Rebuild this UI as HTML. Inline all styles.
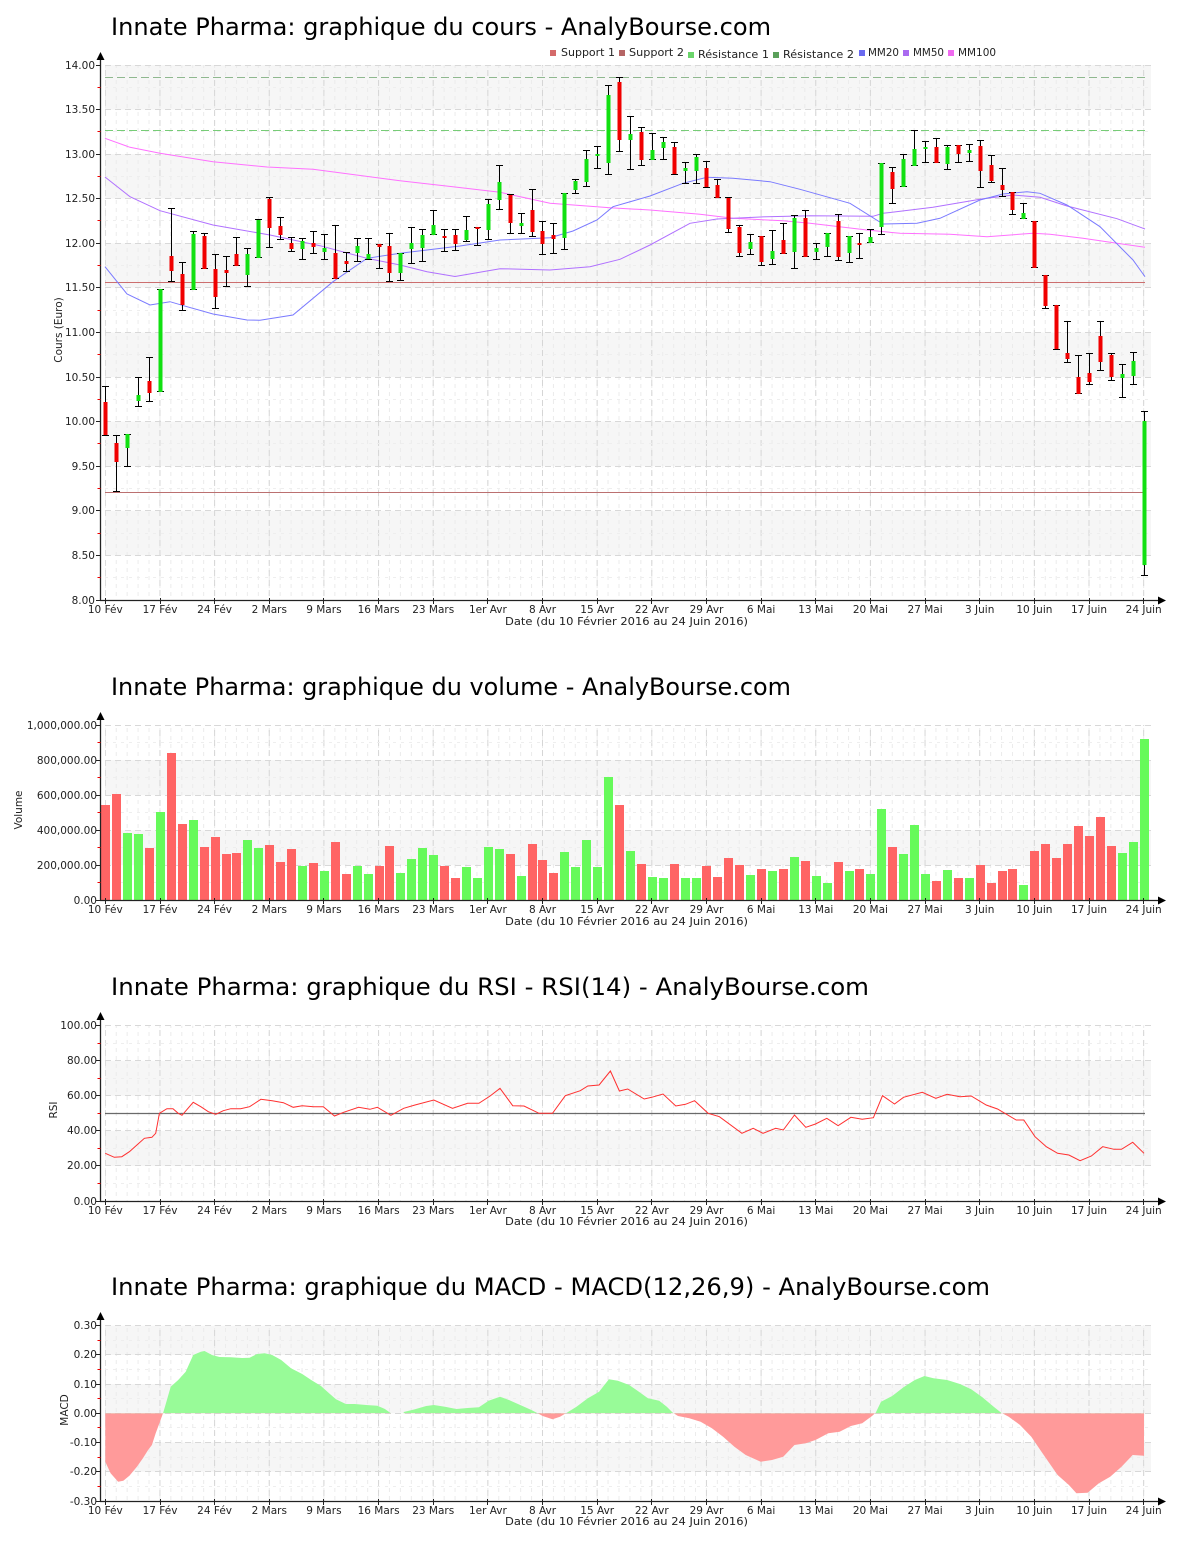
<!DOCTYPE html>
<html><head><meta charset="utf-8"><style>
html,body{margin:0;padding:0;background:#fff;}
svg{display:block;font-family:"DejaVu Sans","Liberation Sans",sans-serif;}
</style></head><body>
<svg width="1200" height="1550" viewBox="0 0 1200 1550" xmlns="http://www.w3.org/2000/svg">
<defs>
<pattern id="vminor" patternUnits="userSpaceOnUse" x="104.8" y="0" width="10.93" height="8"><rect width="1" height="4" fill="#ebebeb"/></pattern>
<pattern id="vmajor" patternUnits="userSpaceOnUse" x="104.8" y="0" width="54.65" height="10"><rect width="1" height="6" fill="#d6d6d6"/></pattern>
<clipPath id="cpos"><rect x="100" y="1320" width="1060" height="93.3"/></clipPath>
<clipPath id="cneg"><rect x="100" y="1413.3" width="1060" height="90"/></clipPath>
</defs>
<rect width="1200" height="1550" fill="#fff"/>

<!-- ================= CHART 1 ================= -->
<text x="111" y="35" font-size="24" textLength="660" lengthAdjust="spacingAndGlyphs" fill="#000">Innate Pharma: graphique du cours - AnalyBourse.com</text>
<!-- legend -->
<g font-size="11" fill="#222">
<rect x="550" y="50" width="6" height="6" fill="#d46a6a"/><text x="561" y="56" textLength="54" lengthAdjust="spacingAndGlyphs">Support 1</text>
<rect x="619" y="50" width="6" height="6" fill="#b56565"/><text x="629" y="56" textLength="55" lengthAdjust="spacingAndGlyphs">Support 2</text>
<rect x="688" y="52" width="6" height="6" fill="#6ad46a"/><text x="698" y="58" textLength="71" lengthAdjust="spacingAndGlyphs">Résistance 1</text>
<rect x="773" y="52" width="6" height="6" fill="#5aa05a"/><text x="783" y="58" textLength="71" lengthAdjust="spacingAndGlyphs">Résistance 2</text>
<rect x="859" y="50" width="6" height="6" fill="#6a6af0"/><text x="868" y="56" textLength="31" lengthAdjust="spacingAndGlyphs">MM20</text>
<rect x="903" y="50" width="6" height="6" fill="#aa6af0"/><text x="913" y="56" textLength="31" lengthAdjust="spacingAndGlyphs">MM50</text>
<rect x="948" y="50" width="6" height="6" fill="#f06af0"/><text x="958" y="56" textLength="38" lengthAdjust="spacingAndGlyphs">MM100</text>
</g>
<!-- bands -->
<g fill="#f6f6f6">
<rect x="105" y="65" width="1046" height="44.6"/><rect x="105" y="154" width="1046" height="44.6"/>
<rect x="105" y="243.2" width="1046" height="44.6"/><rect x="105" y="332.4" width="1046" height="44.6"/>
<rect x="105" y="421.6" width="1046" height="44.6"/><rect x="105" y="510.8" width="1046" height="44.6"/>
</g>
<rect x="105" y="65" width="1046" height="535" fill="url(#vminor)"/>
<rect x="105" y="65" width="1046" height="535" fill="url(#vmajor)"/>
<path d="M105,87.5H1151M105,131.5H1151M105,176.5H1151M105,220.5H1151M105,265.5H1151M105,310.5H1151M105,354.5H1151M105,399.5H1151M105,443.5H1151M105,488.5H1151M105,533.5H1151M105,577.5H1151" stroke="#eeeeee" stroke-dasharray="3,5" fill="none"/>
<path d="M105,65.5H1151M105,109.5H1151M105,154.5H1151M105,198.5H1151M105,243.5H1151M105,287.5H1151M105,332.5H1151M105,377.5H1151M105,421.5H1151M105,466.5H1151M105,510.5H1151M105,555.5H1151" stroke="#d8d8d8" stroke-dasharray="6,4" fill="none"/>
<!-- resistance / support -->
<path d="M105,77.5H1145" stroke="#8fb88f" stroke-dasharray="8,4" fill="none"/>
<path d="M105,130.5H1145" stroke="#77cc77" stroke-dasharray="8,4" fill="none"/>
<path d="M105,282.5H1145" stroke="#cc6e6e" fill="none"/>
<path d="M105,492.5H1145" stroke="#bb7070" fill="none"/>
<!-- moving averages -->
<polyline fill="none" stroke="#ff70ff" stroke-width="1" points="105,138.3 130,147.3 160,153.3 213,161.7 267,167 313,169.3 400,180.7 455,187 500,192.3 550,203.3 610,207.7 650,210 700,214.3 733,218.3 783,220.7 810,223.3 867,230 900,233.3 950,234.3 987,236.7 1033,233.3 1050,234.3 1083,238.3 1117,243.3 1145,247.3"/>
<polyline fill="none" stroke="#b070ff" stroke-width="1" points="105,177 130,196.7 160,210.7 213,225 270,235 320,245.7 367,258.3 400,265 427,271.7 455,276.5 500,268.7 550,270 590,266.7 620,259.3 650,245 690,223.3 717,219 767,216.7 810,215.7 873,216.3 883,213.3 933,207.3 983,198.7 1013,195 1040,197.3 1067,206 1117,218.7 1145,229"/>
<polyline fill="none" stroke="#7a7aff" stroke-width="1" points="105,266.7 127,294 150,305 170,301.7 187,306.7 213,314 247,320 260,320.3 293,315 333,281.7 367,258.3 400,253.3 460,246 500,240 550,237.7 573,231 597,220 613,206.7 650,196 683,183.3 707,177.3 733,178.3 770,181.7 800,189.3 850,203.3 883,224 917,223.3 940,218.3 980,200 1003,194 1027,191.7 1040,193.3 1067,205 1100,226.7 1133,260 1145,276.7"/>
<!-- wicks -->
<path stroke="#000" stroke-width="1" fill="none" d="M105.5,386V436M102,386.5h7M102,435.5h7
M116.5,435V492M113,435.5h7M113,491.5h7
M127.5,434V467M124,434.5h7M124,466.5h7
M138.5,377V407M135,377.5h7M135,406.5h7
M149.5,357V402M146,357.5h7M146,401.5h7
M160.5,289V392M157,289.5h7M157,391.5h7
M171.5,208V282M168,208.5h7M168,281.5h7
M182.5,262V311M179,262.5h7M179,310.5h7
M193.5,231V290M190,231.5h7M190,289.5h7
M204.5,233V269M201,233.5h7M201,268.5h7
M215.5,254V309M212,254.5h7M212,308.5h7
M226.5,256V287M223,256.5h7M223,286.5h7
M236.5,237V266M233,237.5h7M233,265.5h7
M247.5,248V287M244,248.5h7M244,286.5h7
M258.5,219V258M255,219.5h7M255,257.5h7
M269.5,197V248M266,197.5h7M266,247.5h7
M280.5,217V240M277,217.5h7M277,239.5h7
M291.5,237V252M288,237.5h7M288,251.5h7
M302.5,238V260M299,238.5h7M299,259.5h7
M313.5,231V254M310,231.5h7M310,253.5h7
M324.5,234V260M321,234.5h7M321,259.5h7
M335.5,225V279M332,225.5h7M332,278.5h7
M346.5,252V272M343,252.5h7M343,271.5h7
M357.5,238V262M354,238.5h7M354,261.5h7
M368.5,238V260M365,238.5h7M365,259.5h7
M379.5,244V269M376,244.5h7M376,268.5h7
M389.5,233V282M386,233.5h7M386,281.5h7
M400.5,253V281M397,253.5h7M397,280.5h7
M411.5,227V264M408,227.5h7M408,263.5h7
M422.5,229V262M419,229.5h7M419,261.5h7
M433.5,210V235M430,210.5h7M430,234.5h7
M444.5,229V252M441,229.5h7M441,251.5h7
M455.5,229V251M452,229.5h7M452,250.5h7
M466.5,216V242M463,216.5h7M463,241.5h7
M477.5,227V246M474,227.5h7M474,245.5h7
M488.5,199V240M485,199.5h7M485,239.5h7
M499.5,165V210M496,165.5h7M496,209.5h7
M510.5,194V234M507,194.5h7M507,233.5h7
M521.5,213V234M518,213.5h7M518,233.5h7
M532.5,189V237M529,189.5h7M529,236.5h7
M542.5,221V255M539,221.5h7M539,254.5h7
M553.5,223V254M550,223.5h7M550,253.5h7
M564.5,193V250M561,193.5h7M561,249.5h7
M575.5,179V194M572,179.5h7M572,193.5h7
M586.5,150V187M583,150.5h7M583,186.5h7
M597.5,146V169M594,146.5h7M594,168.5h7
M608.5,85V175M605,85.5h7M605,174.5h7
M619.5,77V152M616,77.5h7M616,151.5h7
M630.5,116V170M627,116.5h7M627,169.5h7
M641.5,127V166M638,127.5h7M638,165.5h7
M652.5,133V160M649,133.5h7M649,159.5h7
M663.5,137V160M660,137.5h7M660,159.5h7
M674.5,142V175M671,142.5h7M671,174.5h7
M685.5,162V184M682,162.5h7M682,183.5h7
M696.5,154V184M693,154.5h7M693,183.5h7
M706.5,161V188M703,161.5h7M703,187.5h7
M717.5,179V198M714,179.5h7M714,197.5h7
M728.5,197V233M725,197.5h7M725,232.5h7
M739.5,225V257M736,225.5h7M736,256.5h7
M750.5,234V255M747,234.5h7M747,254.5h7
M761.5,236V266M758,236.5h7M758,265.5h7
M772.5,230V265M769,230.5h7M769,264.5h7
M783.5,223V254M780,223.5h7M780,253.5h7
M794.5,215V269M791,215.5h7M791,268.5h7
M805.5,210V257M802,210.5h7M802,256.5h7
M816.5,243V260M813,243.5h7M813,259.5h7
M827.5,233V257M824,233.5h7M824,256.5h7
M838.5,214V261M835,214.5h7M835,260.5h7
M849.5,236V263M846,236.5h7M846,262.5h7
M859.5,233V259M856,233.5h7M856,258.5h7
M870.5,229V243M867,229.5h7M867,242.5h7
M881.5,163V235M878,163.5h7M878,234.5h7
M892.5,167V204M889,167.5h7M889,203.5h7
M903.5,154V187M900,154.5h7M900,186.5h7
M914.5,130V166M911,130.5h7M911,165.5h7
M925.5,141V163M922,141.5h7M922,162.5h7
M936.5,138V163M933,138.5h7M933,162.5h7
M947.5,145V170M944,145.5h7M944,169.5h7
M958.5,145V163M955,145.5h7M955,162.5h7
M969.5,144V162M966,144.5h7M966,161.5h7
M980.5,140V188M977,140.5h7M977,187.5h7
M991.5,155V183M988,155.5h7M988,182.5h7
M1002.5,168V197M999,168.5h7M999,196.5h7
M1012.5,192V215M1009,192.5h7M1009,214.5h7
M1023.5,203V219M1020,203.5h7M1020,218.5h7
M1034.5,221V268M1031,221.5h7M1031,267.5h7
M1045.5,275V309M1042,275.5h7M1042,308.5h7
M1056.5,305V350M1053,305.5h7M1053,349.5h7
M1067.5,321V363M1064,321.5h7M1064,362.5h7
M1078.5,355V394M1075,355.5h7M1075,393.5h7
M1089.5,353V385M1086,353.5h7M1086,384.5h7
M1100.5,321V371M1097,321.5h7M1097,370.5h7
M1111.5,353V381M1108,353.5h7M1108,380.5h7
M1122.5,364V398M1119,364.5h7M1119,397.5h7
M1133.5,352V385M1130,352.5h7M1130,384.5h7
M1144.5,411V576M1141,411.5h7M1141,575.5h7"/>
<!-- bodies red -->
<g fill="#f00000">
<rect x="103.5" y="402" width="4" height="33"/><rect x="114.5" y="443" width="4" height="19"/><rect x="147.5" y="381" width="4" height="12"/>
<rect x="169.5" y="256" width="4" height="15"/><rect x="180.5" y="274" width="4" height="31"/><rect x="202.5" y="236" width="4" height="33"/>
<rect x="213.5" y="269" width="4" height="28"/><rect x="224.5" y="270" width="4" height="3"/><rect x="234.5" y="254" width="4" height="12"/>
<rect x="267.5" y="199" width="4" height="29"/><rect x="278.5" y="226" width="4" height="9"/><rect x="289.5" y="243" width="4" height="6"/>
<rect x="311.5" y="243" width="4" height="4"/><rect x="333.5" y="253" width="4" height="26"/><rect x="344.5" y="261" width="4" height="3"/>
<rect x="377.5" y="244" width="4" height="3"/><rect x="387.5" y="246" width="4" height="27"/><rect x="442.5" y="236" width="4" height="2"/>
<rect x="453.5" y="235" width="4" height="9"/><rect x="475.5" y="227" width="4" height="2"/><rect x="508.5" y="195" width="4" height="28"/>
<rect x="530.5" y="210" width="4" height="22"/><rect x="540.5" y="231" width="4" height="13"/><rect x="551.5" y="235" width="4" height="4"/>
<rect x="617.5" y="82" width="4" height="58"/><rect x="639.5" y="132" width="4" height="28"/><rect x="672.5" y="147" width="4" height="27"/>
<rect x="704.5" y="168" width="4" height="19"/><rect x="715.5" y="185" width="4" height="13"/><rect x="726.5" y="198" width="4" height="31"/>
<rect x="737.5" y="227" width="4" height="26"/><rect x="759.5" y="236" width="4" height="26"/><rect x="781.5" y="240" width="4" height="14"/>
<rect x="803.5" y="218" width="4" height="39"/><rect x="836.5" y="221" width="4" height="36"/><rect x="857.5" y="243" width="4" height="2"/>
<rect x="890.5" y="172" width="4" height="17"/><rect x="934.5" y="147" width="4" height="16"/><rect x="956.5" y="145" width="4" height="9"/>
<rect x="978.5" y="146" width="4" height="25"/><rect x="989.5" y="165" width="4" height="16"/><rect x="1000.5" y="185" width="4" height="5"/>
<rect x="1010.5" y="192" width="4" height="18"/><rect x="1032.5" y="221" width="4" height="47"/><rect x="1043.5" y="275" width="4" height="31"/>
<rect x="1054.5" y="305" width="4" height="44"/><rect x="1065.5" y="353" width="4" height="6"/><rect x="1076.5" y="377" width="4" height="17"/>
<rect x="1087.5" y="373" width="4" height="9"/><rect x="1098.5" y="336" width="4" height="26"/><rect x="1109.5" y="355" width="4" height="22"/>
</g>
<!-- bodies green -->
<g fill="#11e011">
<rect x="125.5" y="434" width="4" height="14"/><rect x="136.5" y="395" width="4" height="6"/><rect x="158.5" y="289" width="4" height="103"/>
<rect x="191.5" y="234" width="4" height="56"/><rect x="245.5" y="254" width="4" height="21"/><rect x="256.5" y="220" width="4" height="38"/>
<rect x="300.5" y="241" width="4" height="8"/><rect x="322.5" y="248" width="4" height="4"/><rect x="355.5" y="246" width="4" height="7"/>
<rect x="366.5" y="254" width="4" height="5"/><rect x="398.5" y="253" width="4" height="20"/><rect x="409.5" y="243" width="4" height="6"/>
<rect x="420.5" y="235" width="4" height="13"/><rect x="431.5" y="225" width="4" height="10"/><rect x="464.5" y="230" width="4" height="10"/>
<rect x="486.5" y="204" width="4" height="26"/><rect x="497.5" y="182" width="4" height="18"/><rect x="519.5" y="223" width="4" height="3"/>
<rect x="562.5" y="193" width="4" height="45"/><rect x="573.5" y="181" width="4" height="9"/><rect x="584.5" y="159" width="4" height="23"/>
<rect x="595.5" y="154" width="4" height="2"/><rect x="606.5" y="95" width="4" height="68"/><rect x="628.5" y="134" width="4" height="6"/>
<rect x="650.5" y="150" width="4" height="10"/><rect x="661.5" y="142" width="4" height="6"/><rect x="683.5" y="168" width="4" height="3"/>
<rect x="694.5" y="157" width="4" height="14"/><rect x="748.5" y="242" width="4" height="7"/><rect x="770.5" y="251" width="4" height="8"/>
<rect x="792.5" y="218" width="4" height="34"/><rect x="814.5" y="248" width="4" height="4"/><rect x="825.5" y="233" width="4" height="14"/>
<rect x="847.5" y="236" width="4" height="17"/><rect x="868.5" y="237" width="4" height="6"/><rect x="879.5" y="163" width="4" height="64"/>
<rect x="901.5" y="159" width="4" height="28"/><rect x="912.5" y="149" width="4" height="17"/><rect x="923.5" y="147" width="4" height="2"/>
<rect x="945.5" y="147" width="4" height="17"/><rect x="967.5" y="150" width="4" height="3"/><rect x="1021.5" y="213" width="4" height="6"/>
<rect x="1120.5" y="374" width="4" height="4"/><rect x="1131.5" y="361" width="4" height="15"/><rect x="1142.5" y="421" width="4" height="144"/>
</g>
<!-- axes -->
<g stroke="#222" fill="none">
<path d="M100.5,58V601" stroke-width="1.3"/>
<path d="M100,600.5H1159" stroke-width="1.3"/>
<path d="M96,65.5h4M96,109.5h4M96,154.5h4M96,198.5h4M96,243.5h4M96,287.5h4M96,332.5h4M96,377.5h4M96,421.5h4M96,466.5h4M96,510.5h4M96,555.5h4M96,600.5h4"/>
<path d="M105.5,598v6M160.5,598v6M214.5,598v6M269.5,598v6M323.5,598v6M378.5,598v6M433.5,598v6M487.5,598v6M542.5,598v6M597.5,598v6M651.5,598v6M706.5,598v6M761.5,598v6M815.5,598v6M870.5,598v6M925.5,598v6M979.5,598v6M1034.5,598v6M1089.5,598v6M1143.5,598v6"/>
</g>
<path d="M97.5,87.5h3M97.5,131.5h3M97.5,176.5h3M97.5,220.5h3M97.5,265.5h3M97.5,310.5h3M97.5,354.5h3M97.5,399.5h3M97.5,443.5h3M97.5,488.5h3M97.5,533.5h3M97.5,577.5h3" stroke="#e00" fill="none"/>
<path d="M100.5,52L96.5,60H104.5Z M1166,600.5L1158,596.5V604.5Z" fill="#000"/>
<g font-size="10.5" fill="#222" text-anchor="end">
<text x="95" y="69">14.00</text><text x="95" y="113">13.50</text><text x="95" y="158">13.00</text><text x="95" y="202">12.50</text>
<text x="95" y="247">12.00</text><text x="95" y="291">11.50</text><text x="95" y="336">11.00</text><text x="95" y="381">10.50</text>
<text x="95" y="425">10.00</text><text x="95" y="470">9.50</text><text x="95" y="514">9.00</text><text x="95" y="559">8.50</text><text x="95" y="604">8.00</text>
</g>
<text transform="translate(62,330) rotate(-90)" font-size="10.5" fill="#222" text-anchor="middle">Cours (Euro)</text>
<g font-size="10.5" fill="#222" text-anchor="middle">
<text x="105.3" y="613">10 Fév</text><text x="160" y="613">17 Fév</text><text x="214.6" y="613">24 Fév</text><text x="269.3" y="613">2 Mars</text>
<text x="323.9" y="613">9 Mars</text><text x="378.6" y="613">16 Mars</text><text x="433.2" y="613">23 Mars</text><text x="487.9" y="613">1er Avr</text>
<text x="542.5" y="613">8 Avr</text><text x="597.2" y="613">15 Avr</text><text x="651.8" y="613">22 Avr</text><text x="706.5" y="613">29 Avr</text>
<text x="761.1" y="613">6 Mai</text><text x="815.8" y="613">13 Mai</text><text x="870.4" y="613">20 Mai</text><text x="925.1" y="613">27 Mai</text>
<text x="979.7" y="613">3 Juin</text><text x="1034.4" y="613">10 Juin</text><text x="1089" y="613">17 Juin</text><text x="1143.7" y="613">24 Juin</text>
<text x="626.5" y="625" textLength="243" lengthAdjust="spacingAndGlyphs">Date (du 10 Février 2016 au 24 Juin 2016)</text>
</g>

<!-- ================= CHART 2 VOLUME ================= -->
<text x="111" y="695" font-size="24" textLength="680" lengthAdjust="spacingAndGlyphs" fill="#000">Innate Pharma: graphique du volume - AnalyBourse.com</text>
<g fill="#f6f6f6"><rect x="105" y="760.1" width="1046" height="35"/><rect x="105" y="830.2" width="1046" height="35"/></g>
<rect x="105" y="725" width="1046" height="175" fill="url(#vminor)"/>
<rect x="105" y="725" width="1046" height="175" fill="url(#vmajor)"/>
<path d="M105,742.5H1151M105,777.5H1151M105,812.5H1151M105,847.5H1151M105,882.5H1151" stroke="#eeeeee" stroke-dasharray="3,5" fill="none"/>
<path d="M105,725.5H1151M105,760.5H1151M105,795.5H1151M105,830.5H1151M105,865.5H1151" stroke="#d8d8d8" stroke-dasharray="6,4" fill="none"/>
<g fill="#ff6464">
<rect x="101" y="805" width="9" height="95"/><rect x="112" y="794" width="9" height="106"/><rect x="145" y="848" width="9" height="52"/>
<rect x="167" y="753" width="9" height="147"/><rect x="178" y="824" width="9" height="76"/><rect x="200" y="847" width="9" height="53"/>
<rect x="211" y="837" width="9" height="63"/><rect x="222" y="854" width="9" height="46"/><rect x="232" y="853" width="9" height="47"/>
<rect x="265" y="845" width="9" height="55"/><rect x="276" y="862" width="9" height="38"/><rect x="287" y="849" width="9" height="51"/>
<rect x="309" y="863" width="9" height="37"/><rect x="331" y="842" width="9" height="58"/><rect x="342" y="874" width="9" height="26"/>
<rect x="375" y="866" width="9" height="34"/><rect x="385" y="846" width="9" height="54"/><rect x="440" y="866" width="9" height="34"/>
<rect x="451" y="878" width="9" height="22"/><rect x="506" y="854" width="9" height="46"/><rect x="528" y="844" width="9" height="56"/>
<rect x="538" y="860" width="9" height="40"/><rect x="549" y="873" width="9" height="27"/><rect x="615" y="805" width="9" height="95"/>
<rect x="637" y="864" width="9" height="36"/><rect x="670" y="864" width="9" height="36"/><rect x="702" y="866" width="9" height="34"/>
<rect x="713" y="877" width="9" height="23"/><rect x="724" y="858" width="9" height="42"/><rect x="735" y="865" width="9" height="35"/>
<rect x="757" y="869" width="9" height="31"/><rect x="779" y="869" width="9" height="31"/><rect x="801" y="861" width="9" height="39"/>
<rect x="834" y="862" width="9" height="38"/><rect x="855" y="869" width="9" height="31"/><rect x="888" y="847" width="9" height="53"/>
<rect x="932" y="881" width="9" height="19"/><rect x="954" y="878" width="9" height="22"/><rect x="976" y="865" width="9" height="35"/>
<rect x="987" y="883" width="9" height="17"/><rect x="998" y="871" width="9" height="29"/><rect x="1008" y="869" width="9" height="31"/>
<rect x="1030" y="851" width="9" height="49"/><rect x="1041" y="844" width="9" height="56"/><rect x="1052" y="858" width="9" height="42"/>
<rect x="1063" y="844" width="9" height="56"/><rect x="1074" y="826" width="9" height="74"/><rect x="1085" y="836" width="9" height="64"/>
<rect x="1096" y="817" width="9" height="83"/><rect x="1107" y="846" width="9" height="54"/>
</g>
<g fill="#66fa5a">
<rect x="123" y="833" width="9" height="67"/><rect x="134" y="834" width="9" height="66"/><rect x="156" y="812" width="9" height="88"/>
<rect x="189" y="820" width="9" height="80"/><rect x="243" y="840" width="9" height="60"/><rect x="254" y="848" width="9" height="52"/>
<rect x="298" y="866" width="9" height="34"/><rect x="320" y="871" width="9" height="29"/><rect x="353" y="866" width="9" height="34"/>
<rect x="364" y="874" width="9" height="26"/><rect x="396" y="873" width="9" height="27"/><rect x="407" y="859" width="9" height="41"/>
<rect x="418" y="848" width="9" height="52"/><rect x="429" y="855" width="9" height="45"/><rect x="462" y="867" width="9" height="33"/>
<rect x="473" y="878" width="9" height="22"/><rect x="484" y="847" width="9" height="53"/><rect x="495" y="849" width="9" height="51"/>
<rect x="517" y="876" width="9" height="24"/><rect x="560" y="852" width="9" height="48"/><rect x="571" y="867" width="9" height="33"/>
<rect x="582" y="840" width="9" height="60"/><rect x="593" y="867" width="9" height="33"/><rect x="604" y="777" width="9" height="123"/>
<rect x="626" y="851" width="9" height="49"/><rect x="648" y="877" width="9" height="23"/><rect x="659" y="878" width="9" height="22"/>
<rect x="681" y="878" width="9" height="22"/><rect x="692" y="878" width="9" height="22"/><rect x="746" y="875" width="9" height="25"/>
<rect x="768" y="871" width="9" height="29"/><rect x="790" y="857" width="9" height="43"/><rect x="812" y="876" width="9" height="24"/>
<rect x="823" y="883" width="9" height="17"/><rect x="845" y="871" width="9" height="29"/><rect x="866" y="874" width="9" height="26"/>
<rect x="877" y="809" width="9" height="91"/><rect x="899" y="854" width="9" height="46"/><rect x="910" y="825" width="9" height="75"/>
<rect x="921" y="874" width="9" height="26"/><rect x="943" y="870" width="9" height="30"/><rect x="965" y="878" width="9" height="22"/>
<rect x="1019" y="885" width="9" height="15"/><rect x="1118" y="853" width="9" height="47"/><rect x="1129" y="842" width="9" height="58"/>
<rect x="1140" y="739" width="9" height="161"/>
</g>
<g stroke="#222" fill="none">
<path d="M100.5,718V901" stroke-width="1.3"/>
<path d="M100,900.5H1159" stroke-width="1.3"/>
<path d="M96,725.5h4M96,760.5h4M96,795.5h4M96,830.5h4M96,865.5h4M96,900.5h4"/>
<path d="M105.5,898v6M160.5,898v6M214.5,898v6M269.5,898v6M323.5,898v6M378.5,898v6M433.5,898v6M487.5,898v6M542.5,898v6M597.5,898v6M651.5,898v6M706.5,898v6M761.5,898v6M815.5,898v6M870.5,898v6M925.5,898v6M979.5,898v6M1034.5,898v6M1089.5,898v6M1143.5,898v6"/>
</g>
<path d="M97.5,742.5h3M97.5,777.5h3M97.5,812.5h3M97.5,847.5h3M97.5,882.5h3" stroke="#e00" fill="none"/>
<path d="M100.5,712L96.5,720H104.5Z M1166,900.5L1158,896.5V904.5Z" fill="#000"/>
<g font-size="10.5" fill="#222" text-anchor="end">
<text x="97" y="729">1,000,000.00</text><text x="97" y="764">800,000.00</text><text x="97" y="799">600,000.00</text>
<text x="97" y="834">400,000.00</text><text x="97" y="869">200,000.00</text><text x="97" y="904">0.00</text>
</g>
<text transform="translate(22,810) rotate(-90)" font-size="10.5" fill="#222" text-anchor="middle">Volume</text>
<g font-size="10.5" fill="#222" text-anchor="middle">
<text x="105.3" y="913">10 Fév</text><text x="160" y="913">17 Fév</text><text x="214.6" y="913">24 Fév</text><text x="269.3" y="913">2 Mars</text>
<text x="323.9" y="913">9 Mars</text><text x="378.6" y="913">16 Mars</text><text x="433.2" y="913">23 Mars</text><text x="487.9" y="913">1er Avr</text>
<text x="542.5" y="913">8 Avr</text><text x="597.2" y="913">15 Avr</text><text x="651.8" y="913">22 Avr</text><text x="706.5" y="913">29 Avr</text>
<text x="761.1" y="913">6 Mai</text><text x="815.8" y="913">13 Mai</text><text x="870.4" y="913">20 Mai</text><text x="925.1" y="913">27 Mai</text>
<text x="979.7" y="913">3 Juin</text><text x="1034.4" y="913">10 Juin</text><text x="1089" y="913">17 Juin</text><text x="1143.7" y="913">24 Juin</text>
<text x="626.5" y="925" textLength="243" lengthAdjust="spacingAndGlyphs">Date (du 10 Février 2016 au 24 Juin 2016)</text>
</g>

<!-- ================= CHART 3 RSI ================= -->
<text x="111" y="995" font-size="24" textLength="758" lengthAdjust="spacingAndGlyphs" fill="#000">Innate Pharma: graphique du RSI - RSI(14) - AnalyBourse.com</text>
<g fill="#f6f6f6"><rect x="105" y="1060.8" width="1046" height="35"/><rect x="105" y="1130.9" width="1046" height="35"/></g>
<rect x="105" y="1025.7" width="1046" height="175.3" fill="url(#vminor)"/>
<rect x="105" y="1025.7" width="1046" height="175.3" fill="url(#vmajor)"/>
<path d="M105,1043.5H1151M105,1078.5H1151M105,1148.5H1151M105,1183.5H1151" stroke="#eeeeee" stroke-dasharray="3,5" fill="none"/>
<path d="M105,1025.5H1151M105,1060.5H1151M105,1095.5H1151M105,1130.5H1151M105,1165.5H1151" stroke="#d8d8d8" stroke-dasharray="6,4" fill="none"/>
<path d="M105,1113.5H1145" stroke="#6a6a6a" stroke-width="1.2" fill="none"/>
<polyline fill="none" stroke="#ff3030" stroke-width="1" points="105.3,1153.3 114.3,1157.3 121.8,1156.7 129.4,1151.7 136.9,1145 144.4,1138.3 151.9,1137.3 155.7,1133.3 159.4,1113.3 166.9,1108.7 173,1108.7 178.2,1113.3 182,1115.3 193.2,1102.3 200.8,1106.7 208.3,1111.7 215.8,1114.3 223.3,1110.7 230.8,1108.7 240.6,1108.7 249.6,1106.7 260.9,1099.3 272.2,1100.7 283.4,1102.7 293.2,1107.3 302.2,1105.7 313.5,1106.7 323.3,1106.7 334.5,1116 343.6,1112.3 358.6,1107.3 369.9,1109.3 377.4,1107.3 390.9,1115.3 403.7,1108.3 415,1105 433.8,1100 452.5,1108.3 467.6,1103.3 478.9,1103.3 490.1,1096 500,1088.3 512.7,1105.7 524,1106 539,1113.3 552.5,1113.3 565.3,1095.7 580.3,1090.7 587.8,1086 599.1,1085 610.4,1071 619.4,1091 627.7,1089 644.2,1099 651.7,1097.3 663,1094 675.8,1106 685.5,1104.3 694.6,1100.7 708.1,1113.3 719.4,1116.7 741.9,1133.3 753.2,1128.3 763,1133.3 775.7,1128.3 783.3,1130 794.5,1115 805.8,1127.3 815.5,1124 826.8,1118.3 838.1,1125.7 850.9,1117.3 862.2,1119.3 873.4,1117.7 882.5,1095.7 894.5,1104 903.5,1097.3 922.3,1092.3 935.8,1098.3 947.1,1094.3 959.9,1096.7 971.2,1096 986.2,1105 997.5,1109 1016.2,1120 1023.8,1120 1035,1136.7 1046.3,1146.7 1057.6,1153.3 1068.9,1155 1080.1,1160.7 1091.4,1156 1102.7,1146.7 1114,1149.3 1121.5,1149.3 1132.7,1142.3 1144,1153.3"/>
<g stroke="#222" fill="none">
<path d="M100.5,1018V1202" stroke-width="1.3"/>
<path d="M100,1201.5H1159" stroke-width="1.3"/>
<path d="M96,1025.5h4M96,1060.5h4M96,1095.5h4M96,1130.5h4M96,1165.5h4M96,1201.5h4"/>
<path d="M105.5,1199v6M160.5,1199v6M214.5,1199v6M269.5,1199v6M323.5,1199v6M378.5,1199v6M433.5,1199v6M487.5,1199v6M542.5,1199v6M597.5,1199v6M651.5,1199v6M706.5,1199v6M761.5,1199v6M815.5,1199v6M870.5,1199v6M925.5,1199v6M979.5,1199v6M1034.5,1199v6M1089.5,1199v6M1143.5,1199v6"/>
</g>
<path d="M97.5,1043.5h3M97.5,1078.5h3M97.5,1113.5h3M97.5,1148.5h3M97.5,1183.5h3" stroke="#e00" fill="none"/>
<path d="M100.5,1012L96.5,1020H104.5Z M1166,1201.5L1158,1197.5V1205.5Z" fill="#000"/>
<g font-size="10.5" fill="#222" text-anchor="end">
<text x="97" y="1029">100.00</text><text x="97" y="1064">80.00</text><text x="97" y="1099">60.00</text>
<text x="97" y="1134">40.00</text><text x="97" y="1169">20.00</text><text x="97" y="1205">0.00</text>
</g>
<text transform="translate(57,1110) rotate(-90)" font-size="10.5" fill="#222" text-anchor="middle">RSI</text>
<g font-size="10.5" fill="#222" text-anchor="middle">
<text x="105.3" y="1214">10 Fév</text><text x="160" y="1214">17 Fév</text><text x="214.6" y="1214">24 Fév</text><text x="269.3" y="1214">2 Mars</text>
<text x="323.9" y="1214">9 Mars</text><text x="378.6" y="1214">16 Mars</text><text x="433.2" y="1214">23 Mars</text><text x="487.9" y="1214">1er Avr</text>
<text x="542.5" y="1214">8 Avr</text><text x="597.2" y="1214">15 Avr</text><text x="651.8" y="1214">22 Avr</text><text x="706.5" y="1214">29 Avr</text>
<text x="761.1" y="1214">6 Mai</text><text x="815.8" y="1214">13 Mai</text><text x="870.4" y="1214">20 Mai</text><text x="925.1" y="1214">27 Mai</text>
<text x="979.7" y="1214">3 Juin</text><text x="1034.4" y="1214">10 Juin</text><text x="1089" y="1214">17 Juin</text><text x="1143.7" y="1214">24 Juin</text>
<text x="626.5" y="1225" textLength="243" lengthAdjust="spacingAndGlyphs">Date (du 10 Février 2016 au 24 Juin 2016)</text>
</g>

<!-- ================= CHART 4 MACD ================= -->
<text x="111" y="1295" font-size="24" textLength="879" lengthAdjust="spacingAndGlyphs" fill="#000">Innate Pharma: graphique du MACD - MACD(12,26,9) - AnalyBourse.com</text>
<g fill="#f6f6f6"><rect x="105" y="1325.7" width="1046" height="29.2"/><rect x="105" y="1384.1" width="1046" height="29.2"/><rect x="105" y="1442.5" width="1046" height="29.2"/></g>
<rect x="105" y="1325.7" width="1046" height="175.3" fill="url(#vminor)"/>
<rect x="105" y="1325.7" width="1046" height="175.3" fill="url(#vmajor)"/>
<path d="M105,1340.5H1151M105,1369.5H1151M105,1398.5H1151M105,1427.5H1151M105,1457.5H1151M105,1486.5H1151" stroke="#eeeeee" stroke-dasharray="3,5" fill="none"/>
<path d="M105,1325.5H1151M105,1354.5H1151M105,1384.5H1151M105,1413.5H1151M105,1442.5H1151M105,1471.5H1151" stroke="#d8d8d8" stroke-dasharray="6,4" fill="none"/>
<g>
<path id="macdA" clip-path="url(#cpos)" fill="#98fb98" d="M105.3,1413.3 L105.3,1461.7 110.6,1473.3 118.1,1481.7 123.3,1480.7 129.4,1475.7 136.9,1466.7 142.9,1458.3 148.1,1450 151.9,1445 155.7,1433.3 159.4,1423.3 163.2,1412.7 166.9,1400 170.7,1386.7 178.2,1380 185.7,1371.7 193.2,1355 200.8,1351.7 204.5,1351 212,1355 219.5,1357 230.8,1357.3 242.1,1358 249.6,1357.7 257.1,1354 264.6,1353.3 272.2,1355 281.2,1360 291,1368.3 302.2,1374 311.2,1380 321,1386 328.5,1392.7 336,1399.3 345.8,1404 354.8,1404 366.1,1405 377.4,1405.7 384.9,1409 390.9,1413.3 403.7,1413.3 403.7,1412 415,1409.3 426.2,1406 433.8,1405 445,1406.7 456.3,1409 467.6,1408 478.9,1407.3 488.6,1400.7 500,1396.7 508.9,1400 520.2,1405 531.4,1410 536.7,1412.7 542.7,1416 552.5,1419.3 560,1416.7 566.8,1412.7 576.5,1406.7 587.8,1398.3 599.1,1391.7 608.9,1379.3 617.9,1380.7 629.2,1385 638.9,1391.7 648,1398.3 659.2,1400.7 666.8,1406.7 672.8,1412.7 678,1416 689.3,1418.3 700.6,1421.7 711.9,1428.3 723.1,1436.7 734.4,1446.7 745.7,1455 760.7,1461.7 772,1460 783.2,1456.7 794.5,1445 805.8,1443.3 815.5,1440 828.3,1433.3 839.6,1431.7 850.9,1426 862.2,1423.3 872,1416 875.7,1412.7 881,1401.7 892.2,1396 903.5,1387.3 914.8,1380 924.5,1376 933.5,1378.3 947.1,1380 959.9,1384 971.2,1389.3 982.4,1397.3 993.7,1406.7 1001.2,1412.7 1008.7,1416.7 1020,1425 1031.3,1436.7 1042.5,1453.3 1057.6,1475 1068.9,1485 1076.4,1493.3 1087.6,1492.7 1098.9,1483.3 1110.2,1476.7 1121.5,1466.7 1132.7,1455 1144,1455.7 1144,1413.3 Z"/>
<path clip-path="url(#cneg)" fill="#ff9a9a" d="M105.3,1413.3 L105.3,1461.7 110.6,1473.3 118.1,1481.7 123.3,1480.7 129.4,1475.7 136.9,1466.7 142.9,1458.3 148.1,1450 151.9,1445 155.7,1433.3 159.4,1423.3 163.2,1412.7 166.9,1400 170.7,1386.7 178.2,1380 185.7,1371.7 193.2,1355 200.8,1351.7 204.5,1351 212,1355 219.5,1357 230.8,1357.3 242.1,1358 249.6,1357.7 257.1,1354 264.6,1353.3 272.2,1355 281.2,1360 291,1368.3 302.2,1374 311.2,1380 321,1386 328.5,1392.7 336,1399.3 345.8,1404 354.8,1404 366.1,1405 377.4,1405.7 384.9,1409 390.9,1413.3 403.7,1413.3 403.7,1412 415,1409.3 426.2,1406 433.8,1405 445,1406.7 456.3,1409 467.6,1408 478.9,1407.3 488.6,1400.7 500,1396.7 508.9,1400 520.2,1405 531.4,1410 536.7,1412.7 542.7,1416 552.5,1419.3 560,1416.7 566.8,1412.7 576.5,1406.7 587.8,1398.3 599.1,1391.7 608.9,1379.3 617.9,1380.7 629.2,1385 638.9,1391.7 648,1398.3 659.2,1400.7 666.8,1406.7 672.8,1412.7 678,1416 689.3,1418.3 700.6,1421.7 711.9,1428.3 723.1,1436.7 734.4,1446.7 745.7,1455 760.7,1461.7 772,1460 783.2,1456.7 794.5,1445 805.8,1443.3 815.5,1440 828.3,1433.3 839.6,1431.7 850.9,1426 862.2,1423.3 872,1416 875.7,1412.7 881,1401.7 892.2,1396 903.5,1387.3 914.8,1380 924.5,1376 933.5,1378.3 947.1,1380 959.9,1384 971.2,1389.3 982.4,1397.3 993.7,1406.7 1001.2,1412.7 1008.7,1416.7 1020,1425 1031.3,1436.7 1042.5,1453.3 1057.6,1475 1068.9,1485 1076.4,1493.3 1087.6,1492.7 1098.9,1483.3 1110.2,1476.7 1121.5,1466.7 1132.7,1455 1144,1455.7 1144,1413.3 Z"/>
</g>
<g stroke="#222" fill="none">
<path d="M100.5,1318V1502" stroke-width="1.3"/>
<path d="M100,1501.5H1159" stroke-width="1.3"/>
<path d="M96,1325.5h4M96,1354.5h4M96,1384.5h4M96,1413.5h4M96,1442.5h4M96,1471.5h4M96,1501.5h4"/>
<path d="M105.5,1499v6M160.5,1499v6M214.5,1499v6M269.5,1499v6M323.5,1499v6M378.5,1499v6M433.5,1499v6M487.5,1499v6M542.5,1499v6M597.5,1499v6M651.5,1499v6M706.5,1499v6M761.5,1499v6M815.5,1499v6M870.5,1499v6M925.5,1499v6M979.5,1499v6M1034.5,1499v6M1089.5,1499v6M1143.5,1499v6"/>
</g>
<path d="M97.5,1340.5h3M97.5,1369.5h3M97.5,1398.5h3M97.5,1427.5h3M97.5,1457.5h3M97.5,1486.5h3" stroke="#e00" fill="none"/>
<path d="M100.5,1312L96.5,1320H104.5Z M1166,1501.5L1158,1497.5V1505.5Z" fill="#000"/>
<g font-size="10.5" fill="#222" text-anchor="end">
<text x="97" y="1329">0.30</text><text x="97" y="1358">0.20</text><text x="97" y="1388">0.10</text><text x="97" y="1417">0.00</text>
<text x="97" y="1446">-0.10</text><text x="97" y="1475">-0.20</text><text x="97" y="1505">-0.30</text>
</g>
<text transform="translate(68,1410) rotate(-90)" font-size="10.5" fill="#222" text-anchor="middle">MACD</text>
<g font-size="10.5" fill="#222" text-anchor="middle">
<text x="105.3" y="1514">10 Fév</text><text x="160" y="1514">17 Fév</text><text x="214.6" y="1514">24 Fév</text><text x="269.3" y="1514">2 Mars</text>
<text x="323.9" y="1514">9 Mars</text><text x="378.6" y="1514">16 Mars</text><text x="433.2" y="1514">23 Mars</text><text x="487.9" y="1514">1er Avr</text>
<text x="542.5" y="1514">8 Avr</text><text x="597.2" y="1514">15 Avr</text><text x="651.8" y="1514">22 Avr</text><text x="706.5" y="1514">29 Avr</text>
<text x="761.1" y="1514">6 Mai</text><text x="815.8" y="1514">13 Mai</text><text x="870.4" y="1514">20 Mai</text><text x="925.1" y="1514">27 Mai</text>
<text x="979.7" y="1514">3 Juin</text><text x="1034.4" y="1514">10 Juin</text><text x="1089" y="1514">17 Juin</text><text x="1143.7" y="1514">24 Juin</text>
<text x="626.5" y="1525" textLength="243" lengthAdjust="spacingAndGlyphs">Date (du 10 Février 2016 au 24 Juin 2016)</text>
</g>
</svg>
</body></html>
